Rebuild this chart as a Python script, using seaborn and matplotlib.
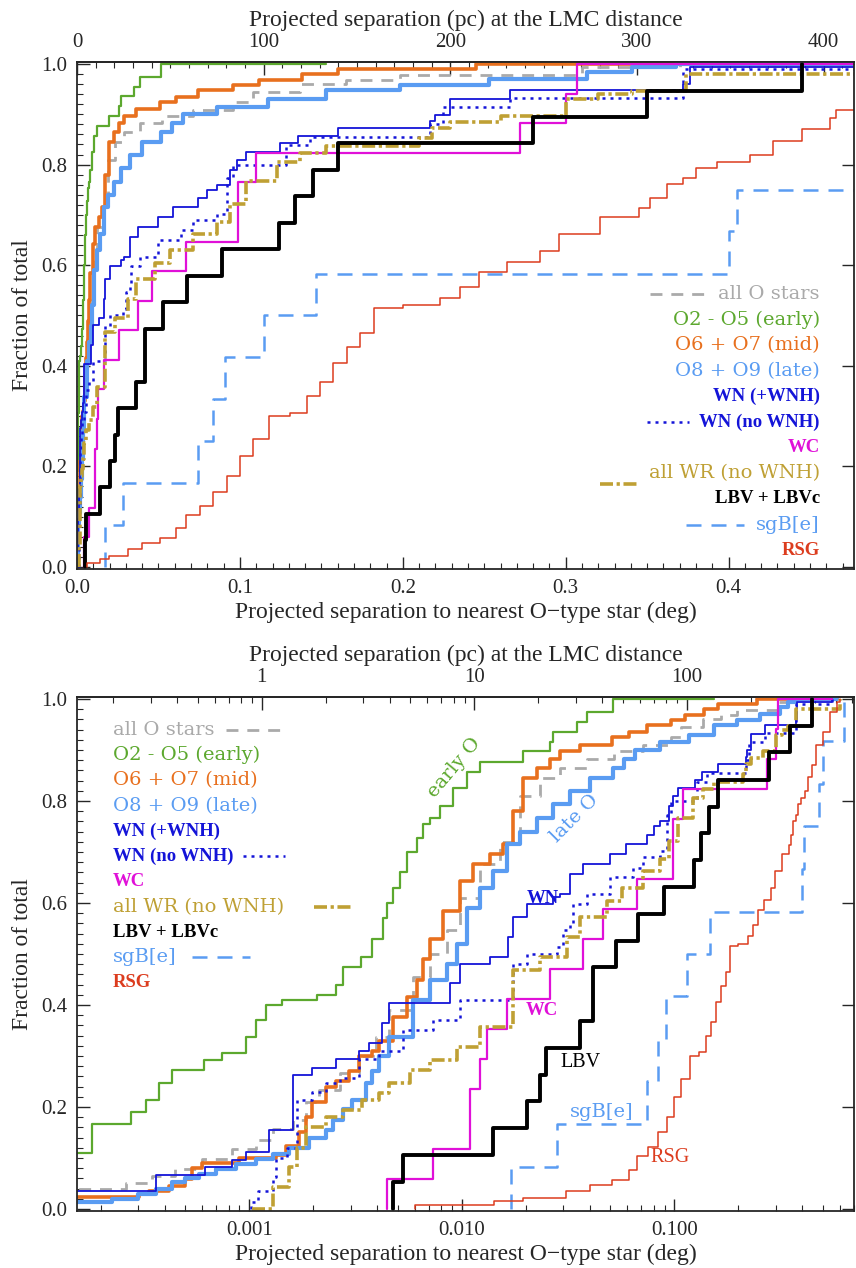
import matplotlib
matplotlib.use("Agg")
import matplotlib.pyplot as plt
from matplotlib.ticker import MultipleLocator, FixedLocator, FuncFormatter, NullFormatter, LogLocator
import numpy as np
import seaborn as sns

# Cumulative fractions.
# x = projected separation to nearest O star (deg), y = fraction of total

allo_x = [1.0e-4, 2.63e-4, 3.5e-4, 4.5e-4, 6.0e-4, 8.3e-4, 1.08e-3, 1.29e-3, 1.6e-3, 1.86e-3,
          2.14e-3, 2.66e-3, 3.3e-3, 3.97e-3, 4.57e-3, 5.87e-3, 7.07e-3, 8.5e-3, 9.8e-3, 0.0122,
          0.0151, 0.0188, 0.0233, 0.029, 0.0389, 0.052, 0.071, 0.096, 0.108, 0.137,
          0.165, 0.198, 0.31, 0.37, 0.58]
allo_y = [0.04, 0.05, 0.064, 0.078, 0.097, 0.117, 0.136, 0.156, 0.175, 0.21,
          0.234, 0.266, 0.30, 0.337, 0.39, 0.454, 0.50, 0.546, 0.61, 0.676,
          0.72, 0.81, 0.844, 0.864, 0.883, 0.897, 0.909, 0.925, 0.945, 0.96,
          0.968, 0.978, 0.994, 1.0, 1.0]

early_x = [1.0e-4, 1.82e-4, 2.77e-4, 3.26e-4, 3.76e-4, 4.33e-4, 6.14e-4, 7.45e-4, 9.7e-4, 1.08e-3,
           1.2e-3, 1.43e-3, 2.09e-3, 2.57e-3, 2.75e-3, 3.37e-3, 3.8e-3, 4.24e-3, 4.43e-3, 4.73e-3,
           5.1e-3, 5.5e-3, 6.13e-3, 6.54e-3, 7.07e-3, 7.87e-3, 9.07e-3, 0.01056, 0.01216, 0.0194,
           0.026, 0.0269, 0.0349, 0.0389, 0.0516, 0.153]
early_y = [0.11, 0.166, 0.19, 0.214, 0.247, 0.273, 0.292, 0.306, 0.337, 0.37,
           0.40, 0.41, 0.42, 0.44, 0.474, 0.494, 0.53, 0.57, 0.60, 0.63,
           0.66, 0.70, 0.727, 0.754, 0.766, 0.79, 0.825, 0.857, 0.877, 0.897,
           0.916, 0.936, 0.955, 0.975, 1.0, 1.0]

mid_x = [1.0e-4, 3.03e-4, 3.37e-4, 4.2e-4, 5.0e-4, 5.4e-4, 6.0e-4, 8.97e-4, 1.34e-3, 1.49e-3,
         1.72e-3, 1.86e-3, 1.98e-3, 2.3e-3, 2.57e-3, 2.96e-3, 3.3e-3, 3.8e-3, 4.1e-3, 4.73e-3,
         5.5e-3, 6.13e-3, 6.54e-3, 7.07e-3, 8.13e-3, 9.78e-3, 0.01127, 0.01356, 0.0156, 0.0174,
         0.0194, 0.0226, 0.026, 0.029, 0.036, 0.051, 0.061, 0.074, 0.096, 0.112,
         0.138, 0.16, 0.245, 0.58]
mid_y = [0.023, 0.03, 0.035, 0.045, 0.058, 0.08, 0.09, 0.10, 0.105, 0.123,
         0.15, 0.18, 0.21, 0.24, 0.25, 0.27, 0.30, 0.31, 0.33, 0.376,
         0.415, 0.448, 0.49, 0.53, 0.585, 0.643, 0.676, 0.695, 0.715, 0.78,
         0.844, 0.864, 0.883, 0.897, 0.91, 0.925, 0.935, 0.948, 0.958, 0.968,
         0.98, 0.99, 1.0, 1.0]

late_x = [1.0e-4, 2.26e-4, 3.0e-4, 3.64e-4, 4.33e-4, 5.0e-4, 5.8e-4, 7.0e-4, 8.7e-4, 1.08e-3,
          1.29e-3, 1.54e-3, 1.92e-3, 2.3e-3, 2.47e-3, 2.75e-3, 3.06e-3, 3.56e-3, 3.8e-3, 4.1e-3,
          4.57e-3, 5.87e-3, 7.07e-3, 8.5e-3, 9.47e-3, 0.01056, 0.01216, 0.014, 0.0163, 0.0188,
          0.0226, 0.0269, 0.0323, 0.0401, 0.0516, 0.058, 0.065, 0.086, 0.117, 0.153,
          0.198, 0.253, 0.313, 0.341, 0.368, 0.58]
late_y = [0.014, 0.02, 0.03, 0.04, 0.052, 0.06, 0.068, 0.078, 0.088, 0.097,
          0.107, 0.12, 0.14, 0.155, 0.175, 0.195, 0.214, 0.247, 0.27, 0.30,
          0.337, 0.41, 0.448, 0.48, 0.52, 0.59, 0.63, 0.662, 0.715, 0.74,
          0.766, 0.793, 0.82, 0.844, 0.864, 0.883, 0.90, 0.915, 0.93, 0.948,
          0.958, 0.97, 0.984, 0.994, 1.0, 1.0]

wn_x = [1.0e-4, 3.64e-4, 6.2e-4, 8.3e-4, 9.7e-4, 1.24e-3, 1.6e-3, 1.98e-3, 2.57e-3, 3.3e-3,
        3.68e-3, 4.2e-3, 4.57e-3, 8.8e-3, 9.78e-3, 0.0136, 0.0165, 0.0174, 0.0203, 0.0269,
        0.029, 0.0323, 0.0372, 0.05, 0.059, 0.074, 0.08, 0.086, 0.094, 0.098,
        0.104, 0.1245, 0.1356, 0.16, 0.2166, 0.22, 0.229, 0.266, 0.372, 0.376, 0.55]
wn_y = [0.036, 0.066, 0.082, 0.095, 0.112, 0.155, 0.263, 0.276, 0.293, 0.309,
        0.326, 0.364, 0.403, 0.442, 0.481, 0.494, 0.533, 0.572, 0.598, 0.611,
        0.617, 0.656, 0.676, 0.695, 0.715, 0.734, 0.75, 0.76, 0.79, 0.81,
        0.826, 0.842, 0.856, 0.872, 0.886, 0.899, 0.931, 0.948, 0.96, 0.994, 1.0]

wnn_x = [1.02e-3, 1.02e-3, 1.1e-3, 1.29e-3, 1.34e-3, 1.5e-3, 1.67e-3, 1.98e-3, 2.3e-3, 2.66e-3,
         3.3e-3, 4.1e-3, 5.3e-3, 7.3e-3, 9.8e-3, 0.0174, 0.0203, 0.028, 0.030, 0.0323,
         0.0334, 0.0389, 0.05, 0.064, 0.071, 0.086, 0.092, 0.096, 0.128, 0.143,
         0.2166, 0.2246, 0.266, 0.372, 0.55]
wnn_y = [0.0, 0.013, 0.036, 0.0625, 0.10, 0.12, 0.214, 0.23, 0.247, 0.257,
         0.293, 0.309, 0.351, 0.37, 0.41, 0.48, 0.50, 0.513, 0.546, 0.559,
         0.598, 0.617, 0.65, 0.669, 0.69, 0.702, 0.773, 0.80, 0.838, 0.854,
         0.88, 0.915, 0.933, 0.99, 1.0]

wc_x = [4.43e-3, 4.43e-3, 7.3e-3, 0.0109, 0.01216, 0.0131, 0.0163, 0.026, 0.0372, 0.0463,
        0.067, 0.099, 0.11, 0.272, 0.30, 0.307, 0.55]
wc_y = [0.0, 0.059, 0.118, 0.235, 0.294, 0.353, 0.412, 0.471, 0.529, 0.588,
        0.647, 0.765, 0.824, 0.882, 0.941, 1.0, 1.0]

wr_x = [1.03e-3, 1.29e-3, 1.54e-3, 1.67e-3, 1.86e-3, 2.3e-3, 2.75e-3, 3.4e-3, 4.1e-3, 4.57e-3,
        5.7e-3, 7.07e-3, 9.5e-3, 0.01216, 0.0174, 0.0233, 0.0312, 0.036, 0.048, 0.057,
        0.071, 0.086, 0.094, 0.104, 0.123, 0.137, 0.153, 0.21, 0.218, 0.229,
        0.26, 0.30, 0.32, 0.341, 0.374, 0.6]
wr_y = [0.0, 0.043, 0.082, 0.12, 0.16, 0.18, 0.194, 0.214, 0.227, 0.247,
        0.273, 0.292, 0.318, 0.357, 0.468, 0.494, 0.533, 0.572, 0.604, 0.63,
        0.663, 0.686, 0.722, 0.767, 0.806, 0.824, 0.837, 0.852, 0.872, 0.885,
        0.897, 0.93, 0.94, 0.947, 0.98, 1.0]

lbv_x = [4.73e-3, 4.73e-3, 5.3e-3, 0.014, 0.0203, 0.0233, 0.025, 0.036, 0.0416, 0.053,
         0.0675, 0.089, 0.124, 0.134, 0.145, 0.16, 0.28, 0.35, 0.445]
lbv_y = [0.0, 0.053, 0.105, 0.158, 0.211, 0.263, 0.316, 0.368, 0.474, 0.526,
         0.579, 0.632, 0.684, 0.737, 0.789, 0.842, 0.895, 0.947, 1.0]

sgb_x = [0.017, 0.017, 0.028, 0.074, 0.0836, 0.091, 0.115, 0.147, 0.40, 0.405, 0.48, 0.50, 0.63]
sgb_y = [0.0, 0.083, 0.167, 0.25, 0.333, 0.417, 0.5, 0.583, 0.667, 0.75, 0.833, 0.917, 1.0]

rsg_x = [6.0e-3, 6.0e-3, 0.0142, 0.0194, 0.031, 0.04, 0.051, 0.061, 0.067, 0.0755,
         0.0836, 0.092, 0.1, 0.108, 0.118, 0.131, 0.141, 0.149, 0.157, 0.166,
         0.174, 0.182, 0.2, 0.223, 0.235, 0.247, 0.264, 0.284, 0.296, 0.321,
         0.345, 0.352, 0.362, 0.372, 0.38, 0.393, 0.413, 0.427, 0.445, 0.462,
         0.466, 0.50, 0.54, 0.58, 0.60]
rsg_y = [0.0, 0.008, 0.015, 0.022, 0.035, 0.047, 0.057, 0.077, 0.103, 0.122,
         0.15, 0.18, 0.22, 0.254, 0.30, 0.307, 0.34, 0.367, 0.406, 0.438,
         0.465, 0.515, 0.52, 0.535, 0.556, 0.586, 0.606, 0.629, 0.662, 0.695,
         0.714, 0.734, 0.761, 0.773, 0.793, 0.806, 0.82, 0.846, 0.87, 0.892,
         0.909, 0.936, 0.975, 0.994, 1.0]

# tick values of the pc axes on top
pc_ticks_lin = [0, 100, 200, 300, 400]
pc_ticks_log = [1, 10, 100]

# LMC at 50 kpc
PC_PER_DEG = np.pi / 180.0 * 50000.0


def deg2pc(d):
    return np.asarray(d) * PC_PER_DEG


def pc2deg(p):
    return np.asarray(p) / PC_PER_DEG


sns.set_style("ticks")
plt.rcParams["font.family"] = ["Liberation Serif", "DejaVu Serif"]
plt.rcParams["axes.linewidth"] = 1.3

GRAY = "#aaaaaa"
GREEN = "#5ca82e"
ORANGE = "#e8701e"
LBLUE = "#5a9cf2"
BLUE = "#1414d8"
MAGENTA = "#e010d8"
OLIVE = "#bfa034"
RED = "#dc3c1e"

LIGHT = dict(family=["DejaVu Serif"], size=14)
BOLD = dict(family=["Liberation Serif"], size=13.5, weight="bold")

# label, x, y, colour, linewidth, linestyle, legend font
series = [
    ("all O stars", allo_x, allo_y, GRAY, 2.0, (0, (4.3, 3.2)), LIGHT),
    ("O2 - O5 (early)", early_x, early_y, GREEN, 1.6, "-", LIGHT),
    ("O6 + O7 (mid)", mid_x, mid_y, ORANGE, 2.6, "-", LIGHT),
    ("O8 + O9 (late)", late_x, late_y, LBLUE, 3.0, "-", LIGHT),
    ("WN (+WNH)", wn_x, wn_y, BLUE, 1.3, "-", BOLD),
    ("WN (no WNH)", wnn_x, wnn_y, BLUE, 1.8, (0, (1.2, 2.0)), BOLD),
    ("WC", wc_x, wc_y, MAGENTA, 1.6, "-", BOLD),
    ("all WR (no WNH)", wr_x, wr_y, OLIVE, 2.6, (0, (3.6, 1.0, 0.9, 1.0)), LIGHT),
    ("LBV + LBVc", lbv_x, lbv_y, "black", 2.8, "-", BOLD),
    ("sgB[e]", sgb_x, sgb_y, LBLUE, 1.8, (0, (6, 4)), LIGHT),
    ("RSG", rsg_x, rsg_y, RED, 1.1, "-", BOLD),
]

fig = plt.figure(figsize=(8.56, 12.68), dpi=100)
ax1 = fig.add_axes([0.0900, 0.5513, 0.9077, 0.3998])
ax2 = fig.add_axes([0.0900, 0.0450, 0.9077, 0.4054])
ax2.set_xscale("log")

for ax in (ax1, ax2):
    for label, xs, ys, color, lw, ls, _ in series:
        sns.lineplot(x=xs, y=ys, ax=ax, estimator=None, sort=False,
                     drawstyle="steps-post", color=color, linewidth=lw,
                     linestyle=ls)
    ax.set_ylim(-0.004, 1.004)
    ax.yaxis.set_major_locator(MultipleLocator(0.2))
    ax.yaxis.set_minor_locator(MultipleLocator(0.02))
    ax.yaxis.set_major_formatter(FuncFormatter(lambda v, _: f"{v:.1f}"))
    ax.tick_params(which="both", direction="in", top=False, right=True,
                   labelsize=15, pad=7)
    ax.tick_params(which="major", length=9, width=1.0)
    ax.tick_params(which="minor", length=4.5, width=0.8, right=False)
    ax.set_ylabel("Fraction of total", fontsize=17, labelpad=6)
    ax.set_xlabel("Projected separation to nearest O\u2212type star (deg)",
                  fontsize=17, labelpad=3)

ax1.set_xlim(0, 0.477)
ax1.xaxis.set_major_locator(MultipleLocator(0.1))
ax1.xaxis.set_minor_locator(MultipleLocator(0.01))
ax1.xaxis.set_major_formatter(FuncFormatter(lambda v, _: f"{v:.1f}"))

ax2.set_xlim(1.55e-4, 0.70)
ax2.xaxis.set_major_locator(FixedLocator([0.001, 0.01, 0.1]))
ax2.xaxis.set_major_formatter(FuncFormatter(lambda v, _: f"{v:.3f}"))
ax2.xaxis.set_minor_formatter(NullFormatter())

for ax, ticks in ((ax1, pc_ticks_lin), (ax2, pc_ticks_log)):
    sec = ax.secondary_xaxis("top", functions=(deg2pc, pc2deg))
    sec.tick_params(which="both", direction="in", labelsize=15, pad=7)
    sec.tick_params(which="major", length=9, width=1.0)
    sec.tick_params(which="minor", length=4.5, width=0.8)
    sec.set_xlabel("Projected separation (pc) at the LMC distance",
                   fontsize=17, labelpad=5)
    sec.xaxis.set_major_locator(FixedLocator(ticks))
    sec.xaxis.set_major_formatter(FuncFormatter(lambda v, _: f"{v:g}"))
    if ax is ax1:
        sec.xaxis.set_minor_locator(MultipleLocator(10))
    else:
        sec.xaxis.set_minor_locator(LogLocator(base=10, subs=np.arange(2, 10)))
        sec.xaxis.set_minor_formatter(NullFormatter())

# legends: coloured text, with a short line sample for the broken styles
top_rows = np.linspace(0.542, 0.037, len(series))
bot_rows = np.linspace(0.936, 0.444, len(series))
top_texts, bot_texts = [], []
for i, (label, xs, ys, color, lw, ls, font) in enumerate(series):
    top_texts.append(ax1.text(0.956, top_rows[i], label, color=color, ha="right",
                              va="center", transform=ax1.transAxes, **font))
    bot_texts.append(ax2.text(0.046, bot_rows[i], label, color=color, ha="left",
                              va="center", transform=ax2.transAxes, **font))

fig.canvas.draw()
renderer = fig.canvas.get_renderer()

# (series index, sample length px, gap top px, y offset top px, gap bottom px)
samples = [(0, 56, 12, 0, 12), (5, 42, 10, 0, 10), (7, 40, 9, -11, 30), (9, 58, 12, 0, 16)]
for idx, length, gap_top, dy_top, gap_bot in samples:
    _, _, _, color, lw, ls, _ = series[idx]
    for ax, txt, side, gap, dy in ((ax1, top_texts[idx], "left", gap_top, dy_top),
                                   (ax2, bot_texts[idx], "right", gap_bot, 0)):
        bb = txt.get_window_extent(renderer)
        yc = 0.5 * (bb.y0 + bb.y1) + dy
        if side == "left":
            x0, x1 = bb.x0 - gap - length, bb.x0 - gap
        else:
            x0, x1 = bb.x1 + gap, bb.x1 + gap + length
        (ax0, ay), (axe, _) = ax.transAxes.inverted().transform([(x0, yc), (x1, yc)])
        ax.plot([ax0, axe], [ay, ay], transform=ax.transAxes, color=color,
                linewidth=lw, linestyle=ls, clip_on=False)

# curve labels in the log panel
ax2.text(9.2e-3, 0.865, "early O", color=GREEN, rotation=50, ha="center",
         va="center", **LIGHT)
ax2.text(0.034, 0.765, "late O", color=LBLUE, rotation=45, ha="center",
         va="center", **LIGHT)
ax2.text(0.024, 0.608, "WN", color=BLUE, ha="center", va="center", **BOLD)
ax2.text(0.0238, 0.39, "WC", color=MAGENTA, ha="center", va="center", **BOLD)
ax2.text(0.036, 0.287, "LBV", color="black", ha="center", va="center",
         family=["Liberation Serif"], size=14.5)
ax2.text(0.0455, 0.19, "sgB[e]", color=LBLUE, ha="center", va="center", **LIGHT)
ax2.text(0.0955, 0.10, "RSG", color=RED, ha="center", va="center",
         family=["Liberation Serif"], size=14.5)

fig.savefig("out.png", dpi=100)
